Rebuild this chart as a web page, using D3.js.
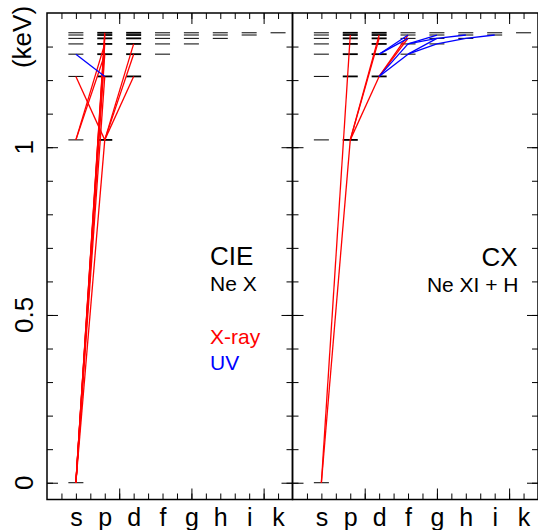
<!DOCTYPE html>
<html>
<head>
<meta charset="utf-8">
<script src="https://cdn.jsdelivr.net/npm/d3@7"></script>
<style>
  body { margin: 0; background: #fff; }
  text { font-family: "Liberation Sans", Arial, Helvetica, sans-serif; }
</style>
</head>
<body>
<div id="chart"></div>
<script>
// orbital columns (x) and Ne X level energies in keV for n = 1..8
var orbitals = ["s", "p", "d", "f", "g", "h", "i", "k"];
var levelEnergy = [0, 1.0218, 1.2110, 1.2773, 1.3078, 1.3244, 1.3344, 1.3410];

// transitions: [n upper, l upper, n lower, l lower, band]
var cieLines = [
  [2, 1, 1, 0, "xray"], [3, 1, 1, 0, "xray"], [4, 1, 1, 0, "xray"], [5, 1, 1, 0, "xray"],
  [6, 1, 1, 0, "xray"], [7, 1, 1, 0, "xray"], [8, 1, 1, 0, "xray"],
  [3, 0, 2, 1, "xray"], [4, 1, 2, 0, "xray"], [5, 1, 2, 0, "xray"],
  [3, 2, 2, 1, "xray"], [4, 2, 2, 1, "xray"], [5, 2, 2, 1, "xray"],
  [4, 0, 3, 1, "uv"]
];
var cxLines = [
  [2, 1, 1, 0, "xray"], [7, 1, 1, 0, "xray"],
  [3, 2, 2, 1, "xray"], [6, 2, 2, 1, "xray"], [7, 2, 2, 1, "xray"],
  [6, 3, 3, 2, "xray"], [7, 3, 3, 2, "xray"],
  [4, 3, 3, 2, "uv"], [5, 3, 3, 2, "uv"], [6, 3, 4, 2, "uv"], [7, 3, 4, 2, "uv"],
  [5, 4, 4, 3, "uv"], [6, 4, 4, 3, "uv"], [6, 4, 5, 3, "uv"], [7, 4, 5, 3, "uv"],
  [6, 5, 5, 4, "uv"], [7, 5, 6, 4, "uv"],
  [7, 6, 6, 5, "uv"]
];
var yTickLabels = [0, 0.5, 1];
var bandColor = {xray: "#ff0000", uv: "#0000ff"};

var width = 538, height = 530;
var plotTop = 13, plotBottom = 499.5;
var panelW = 245.5;

var svg = d3.select("#chart").append("svg")
    .attr("width", width)
    .attr("height", height);

var y = d3.scaleLinear().domain([-0.05, 1.4]).range([plotBottom, plotTop]);
var x = d3.scaleLinear().domain([0, 8.5]).range([0, panelW]);

// all levels n, l with l < n
var levels = [];
for (var l = 0; l < orbitals.length; l++) {
  for (var n = l + 1; n <= levelEnergy.length; n++) {
    levels.push({n: n, l: l});
  }
}

function drawPanel(x0, lines, showYLabels) {
  var g = svg.append("g").attr("transform", "translate(" + x0 + ",0)");

  // level dashes
  g.selectAll(".level")
    .data(levels)
    .enter()
    .append("line")
      .attr("class", "level")
      .attr("x1", function(d) { return x(d.l + 1 - 0.26); })
      .attr("x2", function(d) { return x(d.l + 1 + 0.26); })
      .attr("y1", function(d) { return y(levelEnergy[d.n - 1]); })
      .attr("y2", function(d) { return y(levelEnergy[d.n - 1]); })
      .attr("stroke", "#000")
      .attr("stroke-width", function(d) { return (d.l == 1 || d.l == 2) ? 1.8 : 1; });

  // transitions
  g.selectAll(".trans")
    .data(lines)
    .enter()
    .append("line")
      .attr("class", "trans")
      .attr("x1", function(d) { return x(d[1] + 1); })
      .attr("y1", function(d) { return y(levelEnergy[d[0] - 1]); })
      .attr("x2", function(d) { return x(d[3] + 1); })
      .attr("y2", function(d) { return y(levelEnergy[d[2] - 1]); })
      .attr("stroke", function(d) { return bandColor[d[4]]; })
      .attr("stroke-width", 1.3);

  // ticks, all pointing inward
  var minorX = d3.range(0.5, 8.5, 0.5);
  var majorX = [2.5, 5, 7.5];
  var minorY = d3.range(0, 1.35, 0.1);
  var majorY = [0, 0.5, 1];

  function tickAxis(axis, vals, size, tr) {
    var a = g.append("g").attr("transform", tr)
      .call(axis.tickValues(vals).tickSize(-size).tickFormat(""));
    a.select(".domain").remove();
    a.selectAll(".tick line").attr("stroke", "#000").attr("stroke-width", 1);
  }
  tickAxis(d3.axisBottom(x), minorX, 6, "translate(0," + plotBottom + ")");
  tickAxis(d3.axisBottom(x), majorX, 11, "translate(0," + plotBottom + ")");
  tickAxis(d3.axisTop(x), minorX, 6, "translate(0," + plotTop + ")");
  tickAxis(d3.axisTop(x), majorX, 11, "translate(0," + plotTop + ")");
  tickAxis(d3.axisLeft(y), minorY, 6, "translate(0,0)");
  tickAxis(d3.axisLeft(y), majorY, 11, "translate(0,0)");
  tickAxis(d3.axisRight(y), minorY, 6, "translate(" + panelW + ",0)");
  tickAxis(d3.axisRight(y), majorY, 11, "translate(" + panelW + ",0)");

  // frame
  g.append("rect")
    .attr("x", 0).attr("y", plotTop)
    .attr("width", panelW).attr("height", plotBottom - plotTop)
    .attr("fill", "none")
    .attr("stroke", "#000")
    .attr("stroke-width", 1.5);

  // orbital labels
  var xl = g.append("g")
    .attr("transform", "translate(0," + plotBottom + ")")
    .call(d3.axisBottom(x).tickValues(d3.range(1, 9)).tickSize(0)
      .tickFormat(function(d) { return orbitals[d - 1]; }));
  xl.select(".domain").remove();
  xl.selectAll("text")
    .attr("y", 0).attr("dy", 0)
    .attr("transform", "translate(0,26)")
    .attr("fill", "#000")
    .style("font-size", "25px")
    .style("font-family", "'Liberation Sans', Arial, Helvetica, sans-serif");

  if (showYLabels) {
    g.selectAll(".ylab")
      .data(yTickLabels)
      .enter()
      .append("text")
        .attr("class", "ylab")
        .attr("transform", function(d) { return "translate(-14," + y(d) + ") rotate(-90)"; })
        .attr("text-anchor", "middle")
        .style("font-size", "26px")
        .text(function(d) { return d; });
    g.append("text")
      .attr("transform", "translate(-16," + 37 + ") rotate(-90)")
      .attr("text-anchor", "middle")
      .style("font-size", "26px")
      .text("(keV)");
  }
  return g;
}

var leftPanel = drawPanel(47, cieLines, true);
var rightPanel = drawPanel(47 + panelW, cxLines, false);

// panel annotations
function label(g, tx, ty, txt, size, anchor, color) {
  g.append("text")
    .attr("x", tx).attr("y", ty)
    .attr("text-anchor", anchor)
    .attr("fill", color)
    .style("font-size", size + "px")
    .text(txt);
}
label(leftPanel, 163, 265, "CIE", 26, "start", "#000");
label(leftPanel, 163, 291, "Ne X", 21, "start", "#000");
label(leftPanel, 163, 344, "X-ray", 21, "start", bandColor.xray);
label(leftPanel, 163, 370, "UV", 21, "start", bandColor.uv);
label(rightPanel, 225, 266, "CX", 26, "end", "#000");
label(rightPanel, 226, 292, "Ne XI + H", 21, "end", "#000");
</script>
</body>
</html>
